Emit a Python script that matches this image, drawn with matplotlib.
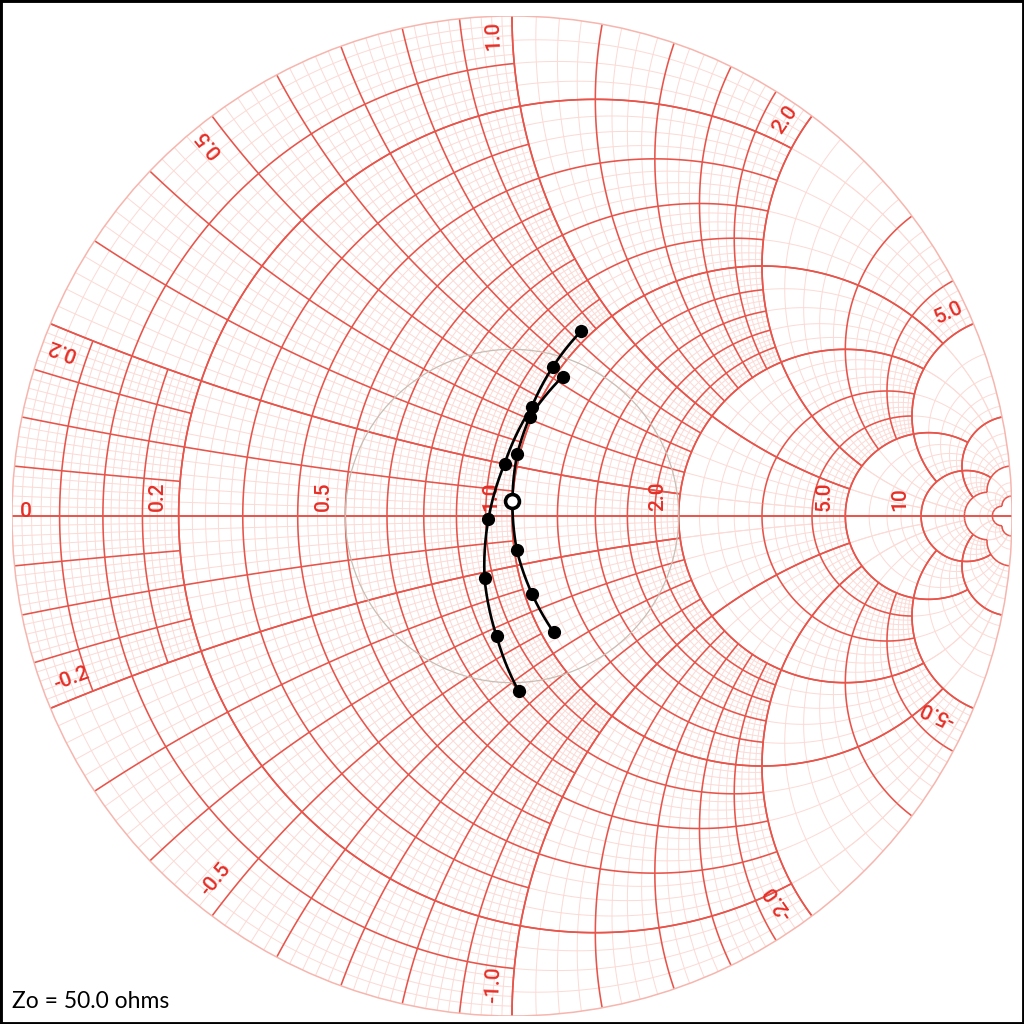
import numpy as np
import matplotlib.pyplot as plt
from matplotlib.collections import LineCollection
from matplotlib.patches import Rectangle, Circle

# normalised impedances (Zo = 50 ohm)
curve1_r = [0.96, 0.97, 0.98, 0.95, 0.91, 0.87, 0.84, 0.80]
curve1_x = [0.84, 0.64, 0.45, 0.20, -0.01, -0.22, -0.43, -0.64]
curve2_r = [1.03, 0.99, 0.99, 1.00, 1.01, 1.03, 1.05]
curve2_x = [0.63, 0.41, 0.25, 0.06, -0.14, -0.33, -0.52]
open_r, open_x = 1.00, 0.06   # hollow marker

axis_labels = ["0.2", "0.5", "1.0", "2.0", "5.0", "10"]
axis_values = [0.2, 0.5, 1.0, 2.0, 5.0, 10.0]
rim_values = [0.2, 0.5, 1.0, 2.0, 5.0, -0.2, -0.5, -1.0, -2.0, -5.0]
rim_labels = ["0.2", "0.5", "1.0", "2.0", "5.0", "-0.2", "-0.5", "-1.0", "-2.0", "-5.0"]

# grid zones: boundaries, major step and minor step inside each zone
edges = [0, 0.2, 1.0, 2.0, 5.0, 10.0, 20.0, 50.0, np.inf]
major_step = [0.05, 0.1, 0.2, 1.0, 5.0, 10.0, 50.0, np.inf]
minor_step = [0.01, 0.02, 0.05, 0.2, 1.0, 2.0, 10.0, np.inf]

MAJOR = "#e8544a"
MINOR = "#fcdad5"
RIM = "#f6b6ae"
LABEL = "#e62e26"
LABEL_FONT = dict(color=LABEL, fontsize=15, family="Roboto", fontweight="medium")


def gamma(z):
    return (z - 1) / (z + 1)


def r_circle(r, x0, x1, n=120):
    t = np.linspace(np.arctan(x0), np.arctan(x1), n)
    x = np.tan(np.clip(t, -1.5707, 1.5707))
    g = gamma(r + 1j * x)
    return np.column_stack([g.real, g.imag])


def x_arc(x, r0, r1, n=120):
    t = np.linspace(np.arctan(r0), np.arctan(r1), n)
    r = np.tan(np.clip(t, 0, 1.5707))
    g = gamma(r + 1j * x)
    return np.column_stack([g.real, g.imag])


def multiples(a, b, m):
    k0 = np.ceil(a / m - 1e-9)
    k1 = np.floor(b / m + 1e-9)
    return np.arange(k0, k1 + 1) * m


def is_mult(v, s):
    if np.isinf(s):
        return False
    return abs(v / s - round(v / s)) < 1e-6


minor_segs, major_segs = [], []
nz = len(major_step)
for i in range(nz):
    for j in range(nz):
        k = max(i, j)
        m, s = minor_step[k], major_step[k]
        if np.isinf(m):
            continue
        for v in multiples(edges[i], edges[i + 1], m):
            if v == 0:
                continue
            seg = r_circle(v, edges[j], edges[j + 1])
            dst = major_segs if is_mult(v, s) else minor_segs
            dst.append(seg)
            dst.append(seg * [1, -1])
        for v in multiples(edges[j], edges[j + 1], m):
            if v == 0:
                continue
            seg = x_arc(v, edges[i], edges[i + 1])
            dst = major_segs if is_mult(v, s) else minor_segs
            dst.append(seg)
            dst.append(seg * [1, -1])

fig = plt.figure(figsize=(10.24, 10.24), dpi=100)
ax = fig.add_axes([12 / 1024, 8 / 1024, 1000 / 1024, 1000 / 1024])
ax.set_xlim(-1, 1)
ax.set_ylim(-1, 1)
ax.set_aspect("equal")
ax.axis("off")

ax.add_collection(LineCollection(minor_segs, colors=MINOR, linewidths=0.7, zorder=1))
ax.add_collection(LineCollection(major_segs, colors=MAJOR, linewidths=1.15, zorder=2))
ax.plot([-1, 1], [0, 0], color=MAJOR, lw=1.4, zorder=2)
ax.add_patch(Circle((0, 0), 1, fill=False, ec=RIM, lw=1.1, zorder=2))
ax.add_patch(Circle((0, 0), 1 / 3, fill=False, ec="#c8beb4", lw=0.9, zorder=3))

# labels along the real axis
for v, txt in zip(axis_values, axis_labels):
    gx = gamma(v).real
    ax.text(gx - 0.024, 0.01, txt, rotation=90, ha="right", va="bottom",
            zorder=4, **LABEL_FONT)
ax.text(-0.972, 0.009, "0", ha="center", va="center", zorder=4, **LABEL_FONT)

# reactance labels at the rim
for v, txt in zip(rim_values, rim_labels):
    th = np.angle(gamma(1j * v))
    phi = th + np.sign(v) * np.radians(2.3)
    if v > 0:
        rr, rot, ha = 0.992, np.degrees(phi), "right"
    else:
        rr, rot, ha = 0.975, np.degrees(phi) + 180, "left"
    ax.text(rr * np.cos(phi), rr * np.sin(phi), txt, rotation=rot,
            rotation_mode="anchor", ha=ha, va="center", zorder=4, **LABEL_FONT)


def draw_curve(rs, xs):
    z = np.array(rs) + 1j * np.array(xs)
    path = []
    for a, b in zip(z[:-1], z[1:]):
        path.append(gamma(np.linspace(a, b, 30)))
    g = np.concatenate(path)
    ax.plot(g.real, g.imag, color="black", lw=1.9, zorder=5)
    gp = gamma(z)
    ax.plot(gp.real, gp.imag, "o", color="black", ms=8.5, zorder=6)


draw_curve(curve1_r, curve1_x)
draw_curve(curve2_r, curve2_x)
go = gamma(open_r + 1j * open_x)
ax.plot(go.real, go.imag, "o", mfc="white", mec="black", mew=2.6, ms=10, zorder=7)

fig.text(12 / 1024, 16 / 1024, "Zo = 50.0 ohms", fontsize=16.5, family="Lato",
         color="black", ha="left", va="baseline")
fig.add_artist(Rectangle((0, 0), 1, 1, transform=fig.transFigure, fill=False,
                         ec="black", lw=3.5))

fig.savefig("out.png", dpi=100, facecolor="white")
